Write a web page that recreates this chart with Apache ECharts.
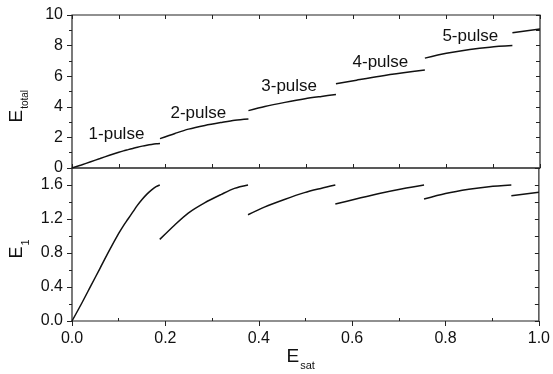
<!DOCTYPE html>
<html>
<head>
<meta charset="utf-8">
<script src="https://cdn.jsdelivr.net/npm/echarts@6/dist/echarts.min.js"></script>
<style>html,body{margin:0;padding:0;background:#fff;}#c{width:553px;height:374px;}</style>
</head>
<body>
<div id="c"></div>
<script>
// ---- data ----
const seg1X = [0, 0.02, 0.04, 0.06, 0.08, 0.1, 0.11, 0.12, 0.13, 0.14, 0.15, 0.16, 0.17, 0.18, 0.188];
const seg1E1 = [0, 0.2, 0.41, 0.62, 0.83, 1.03, 1.12, 1.2, 1.28, 1.36, 1.43, 1.49, 1.54, 1.58, 1.6];
const seg1Etot = [0, 0.2, 0.41, 0.62, 0.83, 1.03, 1.12, 1.2, 1.28, 1.36, 1.43, 1.49, 1.54, 1.58, 1.6];

const seg2X = [0.188, 0.22, 0.249, 0.284, 0.32, 0.348, 0.377];
const seg2E1 = [0.96, 1.13, 1.27, 1.39, 1.49, 1.56, 1.6];
const seg2Etot = [1.92, 2.26, 2.54, 2.78, 2.98, 3.12, 3.2];

const seg3X = [0.377, 0.412, 0.455, 0.498, 0.533, 0.564];
const seg3E1 = [1.25, 1.34, 1.43, 1.51, 1.56, 1.6];
const seg3Etot = [3.75, 4.02, 4.29, 4.53, 4.68, 4.8];

const seg4X = [0.564, 0.608, 0.658, 0.708, 0.754];
const seg4E1 = [1.376, 1.435, 1.5, 1.556, 1.6];
const seg4Etot = [5.5, 5.74, 6.0, 6.22, 6.4];

const seg5X = [0.754, 0.8, 0.85, 0.893, 0.941];
const seg5E1 = [1.435, 1.5, 1.55, 1.58, 1.6];
const seg5Etot = [7.18, 7.5, 7.75, 7.9, 8.0];

const seg6X = [0.941, 1.0];
const seg6E1 = [1.474, 1.514];
const seg6Etot = [8.84, 9.08];

const pulseLabels = ['1-pulse', '2-pulse', '3-pulse', '4-pulse', '5-pulse'];
const pulseLabelX = [0.095, 0.27, 0.464, 0.659, 0.851];
const pulseLabelY = [2.2, 3.6, 5.35, 6.9, 8.62];

const xTickLabels = ['0.0', '0.2', '0.4', '0.6', '0.8', '1.0'];

// ---- chart ----
const FONT = '"Liberation Sans", Arial, sans-serif';
const INK = '#111';
const AX = '#222';

const segX = [seg1X, seg2X, seg3X, seg4X, seg5X, seg6X];
const segE1 = [seg1E1, seg2E1, seg3E1, seg4E1, seg5E1, seg6E1];
const segEtot = [seg1Etot, seg2Etot, seg3Etot, seg4Etot, seg5Etot, seg6Etot];

function pairs(xs, ys) { return xs.map((x, i) => [x, ys[i]]); }

const series = [];
for (let s = 0; s < segX.length; s++) {
  series.push({
    type: 'line', xAxisIndex: 0, yAxisIndex: 0, data: pairs(segX[s], segEtot[s]),
    showSymbol: false, symbol: 'none', smooth: 0.3,
    lineStyle: { color: INK, width: 1.5 }, silent: true
  });
  series.push({
    type: 'line', xAxisIndex: 2, yAxisIndex: 2, data: pairs(segX[s], segE1[s]),
    showSymbol: false, symbol: 'none', smooth: 0.3,
    lineStyle: { color: INK, width: 1.5 }, silent: true
  });
}
series.push({
  type: 'scatter', xAxisIndex: 0, yAxisIndex: 0, symbolSize: 0,
  itemStyle: { color: '#fff' }, silent: true,
  data: pulseLabels.map((n, i) => ({ value: [pulseLabelX[i], pulseLabelY[i]], name: n })),
  label: { show: true, position: 'inside', formatter: p => p.name,
           color: INK, fontSize: 17, fontFamily: FONT, textBorderWidth: 0, opacity: 1 }
});

const tickStyle = { color: AX, width: 1 };

const option = {
  animation: false,
  backgroundColor: '#fff',
  grid: [
    { left: 72, top: 15, width: 468, height: 153, show: true, borderColor: AX, borderWidth: 1.2, backgroundColor: 'transparent' },
    { left: 72, top: 168, width: 468, height: 153, show: true, borderColor: AX, borderWidth: 1.2, backgroundColor: 'transparent' }
  ],
  xAxis: [
    { gridIndex: 0, type: 'value', position: 'bottom', min: 0, max: 1, interval: 0.1,
      axisLine: { show: false, onZero: false }, splitLine: { show: false },
      axisTick: { inside: true, length: 4, lineStyle: tickStyle }, axisLabel: { show: false } },
    { gridIndex: 0, type: 'value', position: 'top', min: 0, max: 1, interval: 0.1,
      axisLine: { show: false, onZero: false }, splitLine: { show: false },
      axisTick: { inside: true, length: 4, lineStyle: tickStyle }, axisLabel: { show: false } },
    { gridIndex: 1, type: 'value', position: 'bottom', min: 0, max: 1, interval: 0.2,
      axisLine: { show: false, onZero: false }, splitLine: { show: false },
      axisTick: { inside: false, length: 5, lineStyle: tickStyle },
      axisLabel: { show: true, margin: 10, color: INK, fontSize: 16, fontFamily: FONT,
                   formatter: v => xTickLabels[Math.round(v / 0.2)] } },
    { gridIndex: 1, type: 'value', position: 'bottom', min: 0, max: 1, interval: 0.2,
      axisLine: { show: false, onZero: false }, splitLine: { show: false },
      axisTick: { show: false, inside: true }, axisLabel: { show: false },
      minorTick: { show: true, splitNumber: 2, length: 3, lineStyle: tickStyle } }
  ],
  yAxis: [
    { gridIndex: 0, type: 'value', position: 'left', min: 0, max: 10, interval: 2,
      axisLine: { show: false, onZero: false }, splitLine: { show: false },
      axisTick: { inside: false, length: 5, lineStyle: tickStyle },
      minorTick: { show: true, splitNumber: 2, length: 3, lineStyle: tickStyle },
      axisLabel: { show: true, margin: 9, color: INK, fontSize: 16, fontFamily: FONT } },
    { gridIndex: 0, type: 'value', position: 'right', min: 0, max: 10, interval: 1,
      axisLine: { show: false, onZero: false }, splitLine: { show: false },
      axisTick: { inside: true, length: 4, lineStyle: tickStyle }, axisLabel: { show: false } },
    { gridIndex: 1, type: 'value', position: 'left', min: 0, max: 1.8, interval: 0.4,
      axisLine: { show: false, onZero: false }, splitLine: { show: false },
      axisTick: { inside: false, length: 5, lineStyle: tickStyle },
      axisLabel: { show: true, margin: 9, color: INK, fontSize: 16, fontFamily: FONT,
                   showMaxLabel: false, formatter: v => v.toFixed(1) } },
    { gridIndex: 1, type: 'value', position: 'left', min: 0, max: 1.8, interval: 0.2,
      axisLine: { show: false, onZero: false }, splitLine: { show: false },
      axisTick: { inside: false, length: 3, lineStyle: tickStyle }, axisLabel: { show: false } },
    { gridIndex: 1, type: 'value', position: 'right', min: 0, max: 1.8, interval: 0.2,
      axisLine: { show: false, onZero: false }, splitLine: { show: false },
      axisTick: { inside: true, length: 4, lineStyle: tickStyle }, axisLabel: { show: false } }
  ],
  graphic: [
    { type: 'text', x: 286.5, y: 347.5, silent: true,
      style: { text: '{e|E}{s|sat}', align: 'left', verticalAlign: 'top',
        rich: { e: { fontSize: 19, lineHeight: 22, verticalAlign: 'top', fontFamily: FONT, fill: INK },
                s: { fontSize: 11, lineHeight: 12, padding: [13, 0, 0, 1], verticalAlign: 'top', fontFamily: FONT, fill: INK } } } },
    { type: 'text', x: 7.6, y: 122.5, rotation: Math.PI / 2, silent: true,
      style: { text: '{e|E}{s|total}', align: 'left', verticalAlign: 'top',
        rich: { e: { fontSize: 19, lineHeight: 22, verticalAlign: 'top', fontFamily: FONT, fill: INK },
                s: { fontSize: 10, lineHeight: 11, padding: [13, 0, 0, 1], verticalAlign: 'top', fontFamily: FONT, fill: INK } } } },
    { type: 'text', x: 7.6, y: 258.5, rotation: Math.PI / 2, silent: true,
      style: { text: '{e|E}{s|1}', align: 'left', verticalAlign: 'top',
        rich: { e: { fontSize: 18, lineHeight: 22, verticalAlign: 'top', fontFamily: FONT, fill: INK },
                s: { fontSize: 11, lineHeight: 12, padding: [13, 0, 0, 1], verticalAlign: 'top', fontFamily: FONT, fill: INK } } } }
  ],
  series: series
};

const chart = echarts.init(document.getElementById('c'), null, { renderer: 'canvas' });
chart.setOption(option);
</script>
</body>
</html>
